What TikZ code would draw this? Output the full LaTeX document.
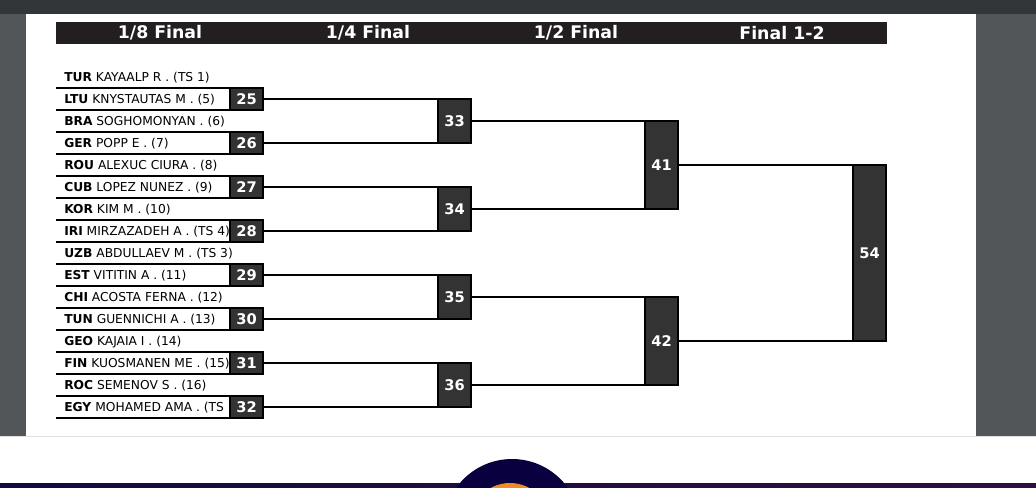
\documentclass[tikz,border=0pt]{standalone}
\usepackage{fontspec}
\setmainfont{DejaVu Sans}
\definecolor{topbar}{HTML}{323639}
\definecolor{sidegray}{HTML}{525659}
\definecolor{hdrbg}{HTML}{231F20}
\definecolor{boxgray}{HTML}{333333}
\definecolor{navy}{HTML}{08003F}
\definecolor{barL}{HTML}{140A40}
\definecolor{barR}{HTML}{2E1040}
\definecolor{orng}{HTML}{F08A24}
\begin{document}
\begin{tikzpicture}[x=0.75pt,y=-0.75pt,
  hdr/.style={text=white,inner sep=0pt,font=\bfseries\fontsize{13}{15}\selectfont},
  pname/.style={anchor=base west,inner sep=0pt,font=\fontsize{9.2}{10}\selectfont},
  num/.style={draw=black,line width=1.5pt,fill=boxgray,text=white,inner sep=0pt,outer sep=0pt,
    font=\bfseries\fontsize{11}{13}\selectfont,minimum width=24.75pt},
  r1/.style={num,minimum height=16.5pt},
  r2/.style={num,minimum height=33pt},
  r3/.style={num,minimum height=66pt},
  r4/.style={num,minimum height=132pt},
  link/.style={line width=1.5pt},
  rowline/.style={line width=1.5pt}]
\useasboundingbox (0,0) rectangle (1036,487);
% viewer frame
\fill[white] (0,0) rectangle (1036,487);
\fill[topbar] (0,0) rectangle (1036,14);
\fill[sidegray] (0,14) rectangle (26,436);
\fill[sidegray] (976,14) rectangle (1036,436);
\fill[white] (26,14) rectangle (976,436);
\fill[black!12] (0,435.5) rectangle (1036,437);
\shade[left color=barL,right color=barR] (0,483) rectangle (1036,487);
\begin{scope}
\clip (0,0) rectangle (1036,487);
\fill[navy] (512,527.5) circle[radius=68.5*0.75pt];
\fill[orng] (510,523) circle[radius=40*0.75pt];
\end{scope}
% header
\node[fill=hdrbg,minimum width=623.25pt,minimum height=16.5pt,inner sep=0pt] (hbar) at (471.5,33) {};
\node[hdr] (h1) at (160,33) {1/8 Final};
\node[hdr] (h2) at (368,33) {1/4 Final};
\node[hdr] (h3) at (576,33) {1/2 Final};
\node[hdr] (h4) at (782,33) {Final 1-2};
% players
\node[pname] (p1) at (64,81.5) {\textbf{TUR} KAYAALP R . (TS 1)};
\node[pname] (p2) at (64,103.5) {\textbf{LTU} KNYSTAUTAS M . (5)};
\node[pname] (p3) at (64,125.5) {\textbf{BRA} SOGHOMONYAN . (6)};
\node[pname] (p4) at (64,147.5) {\textbf{GER} POPP E . (7)};
\node[pname] (p5) at (64,169.5) {\textbf{ROU} ALEXUC CIURA . (8)};
\node[pname] (p6) at (64,191.5) {\textbf{CUB} LOPEZ NUNEZ . (9)};
\node[pname] (p7) at (64,213.5) {\textbf{KOR} KIM M . (10)};
\node[pname] (p8) at (64,235.5) {\textbf{IRI} MIRZAZADEH A . (TS 4)};
\node[pname] (p9) at (64,257.5) {\textbf{UZB} ABDULLAEV M . (TS 3)};
\node[pname] (p10) at (64,279.5) {\textbf{EST} VITITIN A . (11)};
\node[pname] (p11) at (64,301.5) {\textbf{CHI} ACOSTA FERNA . (12)};
\node[pname] (p12) at (64,323.5) {\textbf{TUN} GUENNICHI A . (13)};
\node[pname] (p13) at (64,345.5) {\textbf{GEO} KAJAIA I . (14)};
\node[pname] (p14) at (64,367.5) {\textbf{FIN} KUOSMANEN ME . (15)};
\node[pname] (p15) at (64,389.5) {\textbf{ROC} SEMENOV S . (16)};
\node[pname] (p16) at (64,411.5) {\textbf{EGY} MOHAMED AMA . (TS};
% row lines of the boxed rows
\foreach \y in {99,143,187,231,275,319,363,407}{
  \draw[rowline] (56,\y-11) -- (263,\y-11);
  \draw[rowline] (56,\y+11) -- (263,\y+11);
}
% round 1 boxes
\node[r1] (m25) at (246.5,99) {25};
\node[r1] (m26) at (246.5,143) {26};
\node[r1] (m27) at (246.5,187) {27};
\node[r1] (m28) at (246.5,231) {28};
\node[r1] (m29) at (246.5,275) {29};
\node[r1] (m30) at (246.5,319) {30};
\node[r1] (m31) at (246.5,363) {31};
\node[r1] (m32) at (246.5,407) {32};
% round 2
\node[r2] (m33) at (454.5,121) {33};
\node[r2] (m34) at (454.5,209) {34};
\node[r2] (m35) at (454.5,297) {35};
\node[r2] (m36) at (454.5,385) {36};
% round 3
\node[r3] (m41) at (661.5,165) {41};
\node[r3] (m42) at (661.5,341) {42};
% final
\node[r4] (m54) at (869.5,253) {54};
% connectors
\draw[link] (m25.east) -- (m25.east -| m33.west);
\draw[link] (m26.east) -- (m26.east -| m33.west);
\draw[link] (m27.east) -- (m27.east -| m34.west);
\draw[link] (m28.east) -- (m28.east -| m34.west);
\draw[link] (m29.east) -- (m29.east -| m35.west);
\draw[link] (m30.east) -- (m30.east -| m35.west);
\draw[link] (m31.east) -- (m31.east -| m36.west);
\draw[link] (m32.east) -- (m32.east -| m36.west);
\draw[link] (m33.east) -- (m33.east -| m41.west);
\draw[link] (m34.east) -- (m34.east -| m41.west);
\draw[link] (m35.east) -- (m35.east -| m42.west);
\draw[link] (m36.east) -- (m36.east -| m42.west);
\draw[link] (m41.east) -- (m41.east -| m54.west);
\draw[link] (m42.east) -- (m42.east -| m54.west);
\end{tikzpicture}
\end{document}
